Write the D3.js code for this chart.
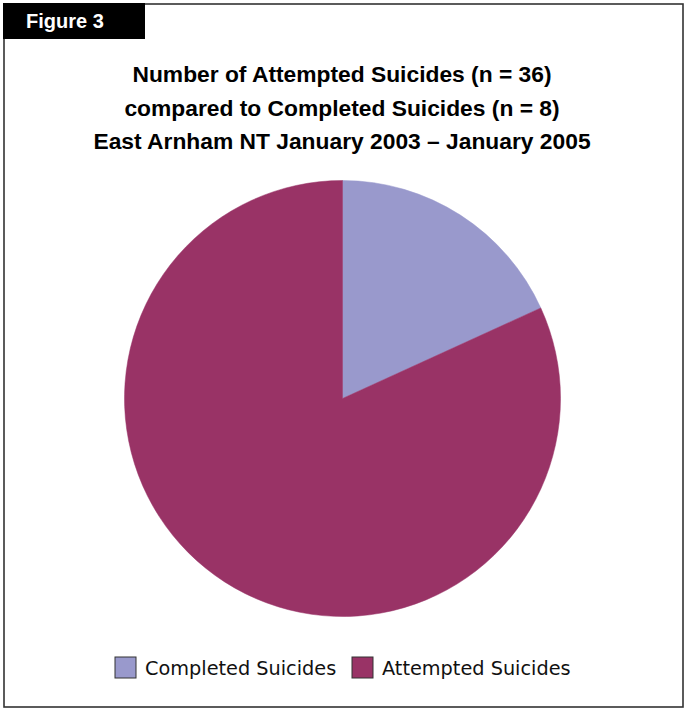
<!DOCTYPE html>
<html>
<head>
<meta charset="utf-8">
<script src="https://cdn.jsdelivr.net/npm/d3@7"></script>
<style>
  html, body { margin: 0; padding: 0; background: #fff; }
  svg { display: block; }
</style>
</head>
<body>
<svg id="chart" width="684" height="709"></svg>
<script>
// Suicide counts, East Arnhem NT, Jan 2003 – Jan 2005
const categories = ["Completed Suicides", "Attempted Suicides"];
const counts = [8, 36];
const colors = ["#9999cc", "#993366"];
const titleLines = [
  "Number of Attempted Suicides (n = 36)",
  "compared to Completed Suicides (n = 8)",
  "East Arnham NT January 2003 \u2013 January 2005"
];
const figureLabel = "Figure 3";

const svg = d3.select("#chart");

// Frame
svg.append("rect")
  .attr("x", 4).attr("y", 4).attr("width", 679).attr("height", 703)
  .attr("fill", "#fff").attr("stroke", "#333").attr("stroke-width", 1.6);

// Figure tab
svg.append("rect")
  .attr("x", 3).attr("y", 3).attr("width", 142).attr("height", 36)
  .attr("fill", "#000");
svg.append("text")
  .attr("x", 26).attr("y", 28)
  .attr("fill", "#fff")
  .attr("font-family", "'Liberation Sans', Arial, sans-serif")
  .attr("font-weight", "bold")
  .attr("font-size", 20)
  .text(figureLabel);

// Title
svg.append("g").selectAll("text")
  .data(titleLines)
  .join("text")
  .attr("x", 342)
  .attr("y", (d, i) => 82 + i * 33.5)
  .attr("text-anchor", "middle")
  .attr("font-family", "'Liberation Sans', Arial, sans-serif")
  .attr("font-weight", "bold")
  .attr("font-size", 22.8)
  .attr("fill", "#000")
  .text(d => d);

// Pie
const cx = 342.5, cy = 398.5, r = 218;
const data = categories.map((c, i) => ({ name: c, value: counts[i], color: colors[i] }));
const pie = d3.pie().value(d => d.value).sort(null);
const arc = d3.arc().innerRadius(0).outerRadius(r);

svg.append("g")
  .attr("transform", `translate(${cx},${cy})`)
  .selectAll("path")
  .data(pie(data))
  .join("path")
  .attr("d", arc)
  .attr("fill", d => d.data.color)
  .attr("stroke", d => d.data.color)
  .attr("stroke-width", 0.5);

// Legend
const legend = svg.append("g");
const legendX = [115, 352];
const item = legend.selectAll("g")
  .data(data)
  .join("g")
  .attr("transform", (d, i) => `translate(${legendX[i]},657)`);
item.append("rect")
  .attr("width", 21).attr("height", 21)
  .attr("fill", d => d.color)
  .attr("stroke", "#333").attr("stroke-width", 1);
item.append("text")
  .attr("x", 30).attr("y", 18)
  .attr("font-family", "'DejaVu Sans', Verdana, sans-serif")
  .attr("font-size", 19.3)
  .attr("fill", "#111")
  .text(d => d.name);
</script>
</body>
</html>
